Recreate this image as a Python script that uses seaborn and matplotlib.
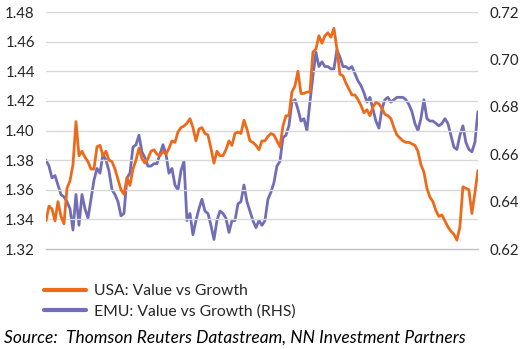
import numpy as np
import pandas as pd
import matplotlib
matplotlib.use("Agg")
import matplotlib.pyplot as plt
import matplotlib.dates as mdates
import seaborn as sns

usa = [1.339, 1.349, 1.347, 1.339, 1.352, 1.342, 1.337, 1.361, 1.366, 1.377,
       1.406, 1.383, 1.386, 1.382, 1.379, 1.374, 1.374, 1.389, 1.390, 1.383,
       1.386, 1.380, 1.379, 1.374, 1.367, 1.360, 1.357, 1.368, 1.363, 1.374,
       1.380, 1.388, 1.381, 1.378, 1.381, 1.386, 1.387,
       1.384, 1.383, 1.386, 1.384, 1.388, 1.393, 1.392, 1.399, 1.402, 1.403,
       1.405, 1.408, 1.402, 1.393, 1.401, 1.402, 1.398, 1.397, 1.388, 1.378,
       1.386, 1.383, 1.383, 1.387, 1.393, 1.390, 1.398, 1.399, 1.398, 1.407,
       1.401, 1.393, 1.392, 1.390, 1.387, 1.393,
       1.393, 1.396, 1.398, 1.397, 1.393, 1.389, 1.403, 1.410, 1.410, 1.426,
       1.430, 1.440, 1.425, 1.425, 1.426, 1.426, 1.453, 1.455, 1.464, 1.459,
       1.464, 1.466, 1.463, 1.469, 1.455, 1.438, 1.437, 1.432, 1.428, 1.424,
       1.424, 1.421, 1.417, 1.412, 1.414, 1.410,
       1.416, 1.419, 1.418, 1.415, 1.411, 1.410, 1.408, 1.402, 1.397, 1.395,
       1.393, 1.392, 1.392, 1.391, 1.390, 1.386, 1.377, 1.372, 1.361, 1.355,
       1.352, 1.346, 1.342, 1.343, 1.339, 1.335, 1.332, 1.330, 1.326, 1.335,
       1.362, 1.361, 1.360, 1.344, 1.358, 1.373]

emu = [0.6575, 0.655, 0.650, 0.651, 0.647, 0.643, 0.642, 0.640, 0.637, 0.628,
       0.643, 0.630, 0.643, 0.637, 0.633, 0.641, 0.649, 0.654, 0.652, 0.660,
       0.6575, 0.653, 0.645, 0.643, 0.640, 0.634, 0.635, 0.650, 0.652, 0.663,
       0.664, 0.668, 0.661, 0.6585, 0.655, 0.655, 0.656,
       0.656, 0.660, 0.664, 0.660, 0.652, 0.654, 0.647, 0.645, 0.653, 0.657,
       0.632, 0.635, 0.626, 0.632, 0.637, 0.641, 0.636, 0.635, 0.630, 0.624,
       0.632, 0.636, 0.635, 0.633, 0.627, 0.632, 0.632, 0.639, 0.640, 0.647,
       0.640, 0.636, 0.632, 0.629, 0.632, 0.630,
       0.632, 0.641, 0.644, 0.648, 0.655, 0.657, 0.667, 0.668, 0.672, 0.682,
       0.683, 0.679, 0.674, 0.675, 0.670, 0.682, 0.693, 0.703, 0.697, 0.699,
       0.697, 0.697, 0.696, 0.696, 0.704, 0.701, 0.697, 0.697, 0.696, 0.697,
       0.694, 0.691, 0.689, 0.686, 0.682, 0.684,
       0.679, 0.674, 0.671, 0.679, 0.683, 0.684, 0.682, 0.683, 0.684, 0.684,
       0.684, 0.683, 0.681, 0.678, 0.673, 0.670, 0.675, 0.683, 0.675, 0.674,
       0.674, 0.673, 0.672, 0.673, 0.675, 0.673, 0.668, 0.663, 0.662, 0.668,
       0.672, 0.665, 0.662, 0.661, 0.665, 0.678]

dates = pd.date_range("2015-05-01", "2017-05-01", periods=len(usa))
df = pd.DataFrame({"date": dates, "usa": usa, "emu": emu})

left_ticks = [1.32, 1.34, 1.36, 1.38, 1.40, 1.42, 1.44, 1.46, 1.48]
right_ticks = [0.62, 0.64, 0.66, 0.68, 0.70, 0.72]

ORANGE = "#EC6A1A"
PURPLE = "#716DB6"

sns.set_style("white")
plt.rcParams["font.family"] = ["Lato", "DejaVu Sans"]

fig = plt.figure(figsize=(5.31, 3.49), dpi=100)
ax = fig.add_axes([0.0866, 0.2865, 0.8134, 0.679])
ax2 = ax.twinx()

sns.lineplot(data=df, x="date", y="usa", ax=ax, color=ORANGE, lw=2.0,
             label="USA: Value vs Growth", legend=False)
sns.lineplot(data=df, x="date", y="emu", ax=ax2, color=PURPLE, lw=2.0,
             label="EMU: Value vs Growth (RHS)", legend=False)

ax.set_zorder(2)
ax.patch.set_visible(False)
ax2.set_zorder(1)

ax.set_ylim(1.32, 1.48)
ax2.set_ylim(0.62, 0.72)
ax.set_yticks(left_ticks)
ax.set_yticklabels([f"{v:.2f}" for v in left_ticks])
ax2.set_yticks(right_ticks)
ax2.set_yticklabels([f"{v:.2f}" for v in right_ticks])
ax.set_xlim(pd.Timestamp("2015-05-01"), pd.Timestamp("2017-05-01"))

ax.grid(False)
ax2.grid(False)
for yv in left_ticks[1:]:
    ax.axhline(yv, color="#D9D9D9", lw=1.0, zorder=0)

ax.xaxis.set_major_locator(mdates.MonthLocator(bymonth=[1, 5, 9]))
ax.xaxis.set_major_formatter(plt.NullFormatter())
ax.xaxis.set_minor_locator(mdates.YearLocator())
ax.xaxis.set_minor_formatter(mdates.DateFormatter("%Y"))
ax.tick_params(axis="x", which="major", length=4, width=1, color="#BFBFBF", direction="out")
ax.tick_params(axis="x", which="minor", length=0, labelsize=10.8, pad=6)
ax.tick_params(axis="y", length=0, labelsize=10.8, pad=8)
ax2.tick_params(axis="y", length=0, labelsize=10.8, pad=8)
ax.set_xlabel("")
ax.set_ylabel("")
ax2.set_ylabel("")

for a in (ax, ax2):
    for s in ("left", "right", "top"):
        a.spines[s].set_visible(False)
ax.spines["bottom"].set_color("#BFBFBF")
ax.spines["bottom"].set_linewidth(1.0)
ax2.spines["bottom"].set_visible(False)

h1, l1 = ax.get_legend_handles_labels()
h2, l2 = ax2.get_legend_handles_labels()
leg = fig.legend(h1 + h2, l1 + l2, loc="upper left", bbox_to_anchor=(0.082, 0.186),
                 frameon=False, fontsize=11.3, handlelength=2.7, handletextpad=0.5,
                 labelspacing=0.4, borderaxespad=0, borderpad=0)
for line in leg.get_lines():
    line.set_linewidth(3.0)

fig.text(0.008, 0.034, "Source:  Thomson Reuters Datastream, NN Investment Partners",
         fontsize=12.5, style="italic", color="black", ha="left", va="center")

fig.savefig("out.png", dpi=100)
